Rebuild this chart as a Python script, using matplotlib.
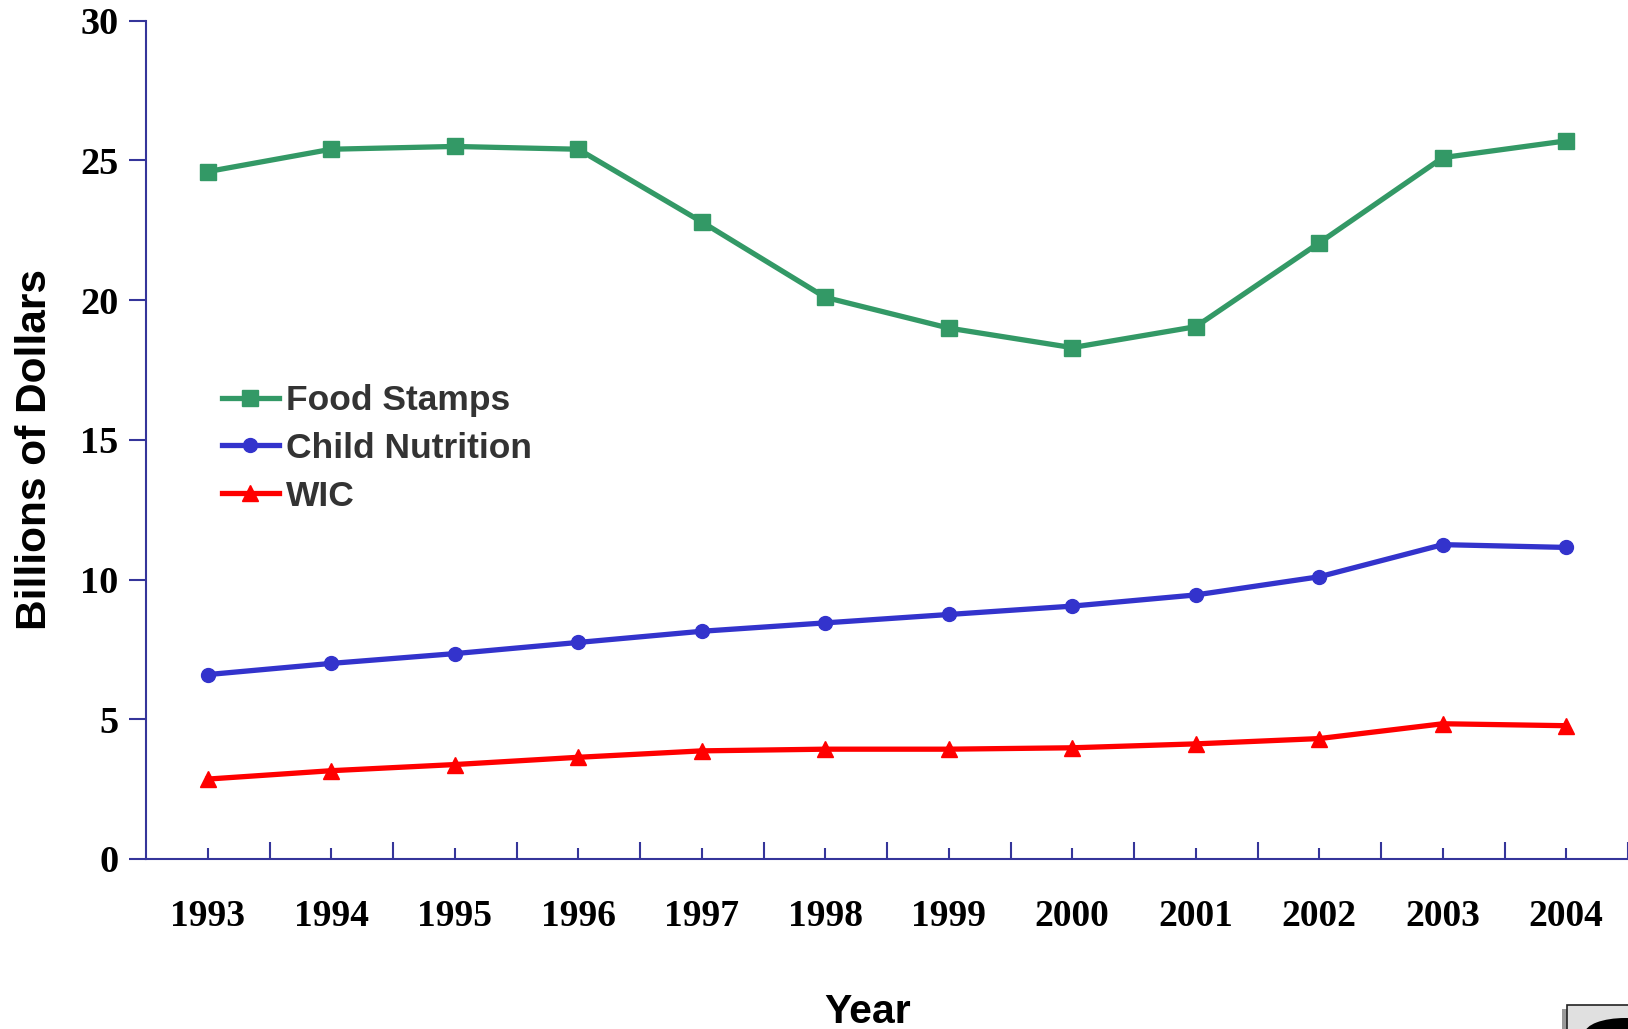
import numpy as np
import matplotlib

matplotlib.use("Agg")
import matplotlib.pyplot as plt
from matplotlib.patches import Rectangle, Ellipse

years = [1993, 1994, 1995, 1996, 1997, 1998, 1999, 2000, 2001, 2002, 2003, 2004]
food_stamps = [24.6, 25.4, 25.5, 25.4, 22.8, 20.1, 19.0, 18.3, 19.05, 22.05, 25.1, 25.7]
child_nutrition = [6.6, 7.0, 7.35, 7.75, 8.15, 8.45, 8.75, 9.05, 9.45, 10.1, 11.25, 11.15]
wic = [2.86, 3.16, 3.38, 3.64, 3.87, 3.93, 3.93, 3.98, 4.12, 4.31, 4.84, 4.77]

AXIS_COLOR = "#35359a"
SERIF = "Liberation Serif"
SANS = "Liberation Sans"

fig = plt.figure(figsize=(16.28, 10.29), dpi=100)
W, H = 1628, 1029
x0, x1 = 146, 1628
y_top, y_bot = 20.7, 859
ax = fig.add_axes([x0 / W, 1 - y_bot / H, (x1 - x0) / W, (y_bot - y_top) / H])

ax.plot(years, food_stamps, color="#339966", lw=3.8, marker="s", ms=12,
        label="Food Stamps", zorder=3)
ax.plot(years, child_nutrition, color="#3333cc", lw=3.8, marker="o", ms=10,
        label="Child Nutrition", zorder=3)
ax.plot(years, wic, color="#ff0000", lw=3.8, marker="^", ms=12,
        label="WIC", zorder=3)

step = (x1 - x0) / 123.9
ax.set_xlim(1992.5, 1992.5 + step)
ax.set_ylim(0, 30)

ax.set_yticks(np.arange(0, 31, 5))
ax.set_xticks(years)
ax.set_xticks(np.arange(1993.5, 2005, 1), minor=True)

ax.tick_params(axis="y", direction="out", length=12, width=1.5, color=AXIS_COLOR,
               pad=8, labelsize=27.5)
ax.tick_params(axis="x", which="major", direction="in", length=8, width=1.5,
               color=AXIS_COLOR, pad=29, labelsize=27)
ax.tick_params(axis="x", which="minor", direction="in", length=12, width=1.5,
               color=AXIS_COLOR)

for lbl in ax.get_xticklabels() + ax.get_yticklabels():
    lbl.set_fontfamily(SERIF)
    lbl.set_fontweight("bold")

for side in ("top", "right"):
    ax.spines[side].set_visible(False)
for side in ("left", "bottom"):
    ax.spines[side].set_color(AXIS_COLOR)
    ax.spines[side].set_linewidth(1.5)
ax.spines["bottom"].set_clip_on(False)

leg = ax.legend(loc="upper left", bbox_to_anchor=(222 / W, 1 - 384 / H),
                bbox_transform=fig.transFigure, frameon=False,
                prop={"family": SANS, "weight": "bold", "size": 25.5},
                handlelength=1.6, handletextpad=0.22, labelspacing=0.42,
                borderpad=0, borderaxespad=0)
for t in leg.get_texts():
    t.set_color("#333333")

fig.text(35 / W, 1 - 450 / H, "Billions of Dollars", rotation=90, ha="center",
         va="center", family=SANS, weight="bold", fontsize=30.5)
fig.text(868 / W, 1 - 1012 / H, "Year", ha="center", va="center",
         family=SANS, weight="bold", fontsize=29.5)

# small button partly visible in the lower-right corner
fig.patches.append(Rectangle((1562 / W, 0), 6 / W, 20 / H, transform=fig.transFigure,
                             facecolor="#999999", edgecolor="none"))
fig.patches.append(Rectangle((1567 / W, -0.01), 70 / W, 1 - 1005 / H + 0.01,
                             transform=fig.transFigure, facecolor="#e0e0e0",
                             edgecolor="#222222", lw=1.2))
fig.patches.append(Ellipse((1625 / W, -4 / H), 80 / W, 30 / H, transform=fig.transFigure,
                           facecolor="black", edgecolor="none"))

fig.savefig("out.png", dpi=100, facecolor="white")
